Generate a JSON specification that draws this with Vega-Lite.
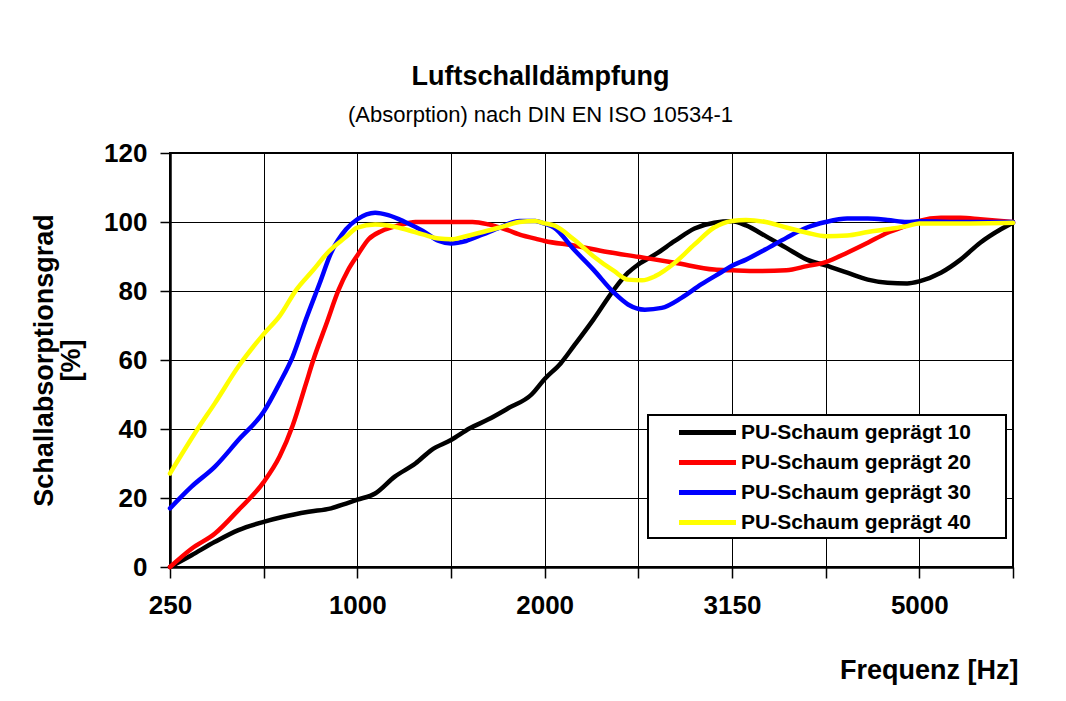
{
  "$schema": "https://vega.github.io/schema/vega-lite/v6.json",
  "width": 843,
  "height": 414,
  "autosize": {"type": "none"},
  "padding": {"left": 170, "top": 153, "right": 53, "bottom": 134},
  "background": "white",
  "title": {
    "text": "Luftschalldämpfung",
    "subtitle": "(Absorption) nach DIN EN ISO 10534-1",
    "font": "Liberation Sans",
    "fontSize": 27,
    "fontWeight": "bold",
    "color": "black",
    "subtitleFont": "Liberation Sans",
    "subtitleFontSize": 22,
    "subtitleFontWeight": "normal",
    "subtitleColor": "black",
    "subtitlePadding": 14,
    "anchor": "middle",
    "frame": "group",
    "dx": -51,
    "offset": 13
  },
  "data": {
    "values": [
      {"Serie": "PU-Schaum geprägt 10", "Band": 0, "Grad": 0},
      {"Serie": "PU-Schaum geprägt 10", "Band": 0.23, "Grad": 3.4},
      {"Serie": "PU-Schaum geprägt 10", "Band": 0.48, "Grad": 7.3},
      {"Serie": "PU-Schaum geprägt 10", "Band": 0.73, "Grad": 10.7},
      {"Serie": "PU-Schaum geprägt 10", "Band": 1.0, "Grad": 13.1},
      {"Serie": "PU-Schaum geprägt 10", "Band": 1.2, "Grad": 14.5},
      {"Serie": "PU-Schaum geprägt 10", "Band": 1.48, "Grad": 16.0},
      {"Serie": "PU-Schaum geprägt 10", "Band": 1.72, "Grad": 17.0},
      {"Serie": "PU-Schaum geprägt 10", "Band": 1.88, "Grad": 18.4},
      {"Serie": "PU-Schaum geprägt 10", "Band": 2.0, "Grad": 19.5},
      {"Serie": "PU-Schaum geprägt 10", "Band": 2.19, "Grad": 21.3},
      {"Serie": "PU-Schaum geprägt 10", "Band": 2.4, "Grad": 26.2},
      {"Serie": "PU-Schaum geprägt 10", "Band": 2.62, "Grad": 30.0},
      {"Serie": "PU-Schaum geprägt 10", "Band": 2.79, "Grad": 33.9},
      {"Serie": "PU-Schaum geprägt 10", "Band": 3.0, "Grad": 36.8},
      {"Serie": "PU-Schaum geprägt 10", "Band": 3.2, "Grad": 40.2},
      {"Serie": "PU-Schaum geprägt 10", "Band": 3.4, "Grad": 42.8},
      {"Serie": "PU-Schaum geprägt 10", "Band": 3.61, "Grad": 46.0},
      {"Serie": "PU-Schaum geprägt 10", "Band": 3.86, "Grad": 50.0},
      {"Serie": "PU-Schaum geprägt 10", "Band": 4.0, "Grad": 54.5},
      {"Serie": "PU-Schaum geprägt 10", "Band": 4.17, "Grad": 59.0},
      {"Serie": "PU-Schaum geprägt 10", "Band": 4.31, "Grad": 64.0},
      {"Serie": "PU-Schaum geprägt 10", "Band": 4.52, "Grad": 71.7},
      {"Serie": "PU-Schaum geprägt 10", "Band": 4.74, "Grad": 80.4},
      {"Serie": "PU-Schaum geprägt 10", "Band": 4.89, "Grad": 85.3},
      {"Serie": "PU-Schaum geprägt 10", "Band": 5.0, "Grad": 87.7},
      {"Serie": "PU-Schaum geprägt 10", "Band": 5.18, "Grad": 90.6},
      {"Serie": "PU-Schaum geprägt 10", "Band": 5.39, "Grad": 94.5},
      {"Serie": "PU-Schaum geprägt 10", "Band": 5.6, "Grad": 98.1},
      {"Serie": "PU-Schaum geprägt 10", "Band": 5.81, "Grad": 99.8},
      {"Serie": "PU-Schaum geprägt 10", "Band": 6.0, "Grad": 100.2},
      {"Serie": "PU-Schaum geprägt 10", "Band": 6.15, "Grad": 99.0},
      {"Serie": "PU-Schaum geprägt 10", "Band": 6.36, "Grad": 95.9},
      {"Serie": "PU-Schaum geprägt 10", "Band": 6.58, "Grad": 92.5},
      {"Serie": "PU-Schaum geprägt 10", "Band": 6.8, "Grad": 89.1},
      {"Serie": "PU-Schaum geprägt 10", "Band": 7.0, "Grad": 87.4},
      {"Serie": "PU-Schaum geprägt 10", "Band": 7.23, "Grad": 85.3},
      {"Serie": "PU-Schaum geprägt 10", "Band": 7.45, "Grad": 83.3},
      {"Serie": "PU-Schaum geprägt 10", "Band": 7.66, "Grad": 82.4},
      {"Serie": "PU-Schaum geprägt 10", "Band": 7.87, "Grad": 82.2},
      {"Serie": "PU-Schaum geprägt 10", "Band": 8.0, "Grad": 82.8},
      {"Serie": "PU-Schaum geprägt 10", "Band": 8.23, "Grad": 85.3},
      {"Serie": "PU-Schaum geprägt 10", "Band": 8.44, "Grad": 89.1},
      {"Serie": "PU-Schaum geprägt 10", "Band": 8.65, "Grad": 94.0},
      {"Serie": "PU-Schaum geprägt 10", "Band": 8.87, "Grad": 97.9},
      {"Serie": "PU-Schaum geprägt 10", "Band": 9.0, "Grad": 99.8},

      {"Serie": "PU-Schaum geprägt 20", "Band": 0, "Grad": 0},
      {"Serie": "PU-Schaum geprägt 20", "Band": 0.23, "Grad": 5.3},
      {"Serie": "PU-Schaum geprägt 20", "Band": 0.48, "Grad": 9.7},
      {"Serie": "PU-Schaum geprägt 20", "Band": 0.73, "Grad": 16.5},
      {"Serie": "PU-Schaum geprägt 20", "Band": 1.0, "Grad": 24.6},
      {"Serie": "PU-Schaum geprägt 20", "Band": 1.17, "Grad": 32.0},
      {"Serie": "PU-Schaum geprägt 20", "Band": 1.31, "Grad": 41.0},
      {"Serie": "PU-Schaum geprägt 20", "Band": 1.45, "Grad": 53.0},
      {"Serie": "PU-Schaum geprägt 20", "Band": 1.53, "Grad": 60.0},
      {"Serie": "PU-Schaum geprägt 20", "Band": 1.67, "Grad": 70.5},
      {"Serie": "PU-Schaum geprägt 20", "Band": 1.8, "Grad": 80.3},
      {"Serie": "PU-Schaum geprägt 20", "Band": 1.9, "Grad": 86.0},
      {"Serie": "PU-Schaum geprägt 20", "Band": 2.0, "Grad": 90.3},
      {"Serie": "PU-Schaum geprägt 20", "Band": 2.12, "Grad": 95.0},
      {"Serie": "PU-Schaum geprägt 20", "Band": 2.26, "Grad": 97.4},
      {"Serie": "PU-Schaum geprägt 20", "Band": 2.44, "Grad": 99.0},
      {"Serie": "PU-Schaum geprägt 20", "Band": 2.62, "Grad": 100},
      {"Serie": "PU-Schaum geprägt 20", "Band": 3.0, "Grad": 100},
      {"Serie": "PU-Schaum geprägt 20", "Band": 3.23, "Grad": 100},
      {"Serie": "PU-Schaum geprägt 20", "Band": 3.4, "Grad": 99.3},
      {"Serie": "PU-Schaum geprägt 20", "Band": 3.58, "Grad": 97.9},
      {"Serie": "PU-Schaum geprägt 20", "Band": 3.76, "Grad": 96.1},
      {"Serie": "PU-Schaum geprägt 20", "Band": 3.9, "Grad": 95.2},
      {"Serie": "PU-Schaum geprägt 20", "Band": 4.0, "Grad": 94.5},
      {"Serie": "PU-Schaum geprägt 20", "Band": 4.31, "Grad": 93.2},
      {"Serie": "PU-Schaum geprägt 20", "Band": 4.67, "Grad": 91.3},
      {"Serie": "PU-Schaum geprägt 20", "Band": 5.0, "Grad": 89.9},
      {"Serie": "PU-Schaum geprägt 20", "Band": 5.39, "Grad": 88.2},
      {"Serie": "PU-Schaum geprägt 20", "Band": 5.81, "Grad": 86.2},
      {"Serie": "PU-Schaum geprägt 20", "Band": 6.0, "Grad": 86.0},
      {"Serie": "PU-Schaum geprägt 20", "Band": 6.29, "Grad": 85.8},
      {"Serie": "PU-Schaum geprägt 20", "Band": 6.58, "Grad": 86.0},
      {"Serie": "PU-Schaum geprägt 20", "Band": 6.8, "Grad": 87.2},
      {"Serie": "PU-Schaum geprägt 20", "Band": 7.0, "Grad": 88.4},
      {"Serie": "PU-Schaum geprägt 20", "Band": 7.23, "Grad": 91.1},
      {"Serie": "PU-Schaum geprägt 20", "Band": 7.45, "Grad": 94.0},
      {"Serie": "PU-Schaum geprägt 20", "Band": 7.66, "Grad": 96.9},
      {"Serie": "PU-Schaum geprägt 20", "Band": 7.87, "Grad": 99.0},
      {"Serie": "PU-Schaum geprägt 20", "Band": 8.0, "Grad": 100.3},
      {"Serie": "PU-Schaum geprägt 20", "Band": 8.23, "Grad": 101.2},
      {"Serie": "PU-Schaum geprägt 20", "Band": 8.44, "Grad": 101.2},
      {"Serie": "PU-Schaum geprägt 20", "Band": 8.65, "Grad": 100.8},
      {"Serie": "PU-Schaum geprägt 20", "Band": 9.0, "Grad": 100},

      {"Serie": "PU-Schaum geprägt 30", "Band": 0, "Grad": 17.0},
      {"Serie": "PU-Schaum geprägt 30", "Band": 0.23, "Grad": 23.3},
      {"Serie": "PU-Schaum geprägt 30", "Band": 0.48, "Grad": 29.1},
      {"Serie": "PU-Schaum geprägt 30", "Band": 0.73, "Grad": 36.8},
      {"Serie": "PU-Schaum geprägt 30", "Band": 1.0, "Grad": 45.0},
      {"Serie": "PU-Schaum geprägt 30", "Band": 1.17, "Grad": 53.3},
      {"Serie": "PU-Schaum geprägt 30", "Band": 1.31, "Grad": 61.0},
      {"Serie": "PU-Schaum geprägt 30", "Band": 1.45, "Grad": 71.7},
      {"Serie": "PU-Schaum geprägt 30", "Band": 1.6, "Grad": 82.4},
      {"Serie": "PU-Schaum geprägt 30", "Band": 1.72, "Grad": 91.1},
      {"Serie": "PU-Schaum geprägt 30", "Band": 1.88, "Grad": 97.9},
      {"Serie": "PU-Schaum geprägt 30", "Band": 2.0, "Grad": 100.8},
      {"Serie": "PU-Schaum geprägt 30", "Band": 2.19, "Grad": 102.7},
      {"Serie": "PU-Schaum geprägt 30", "Band": 2.33, "Grad": 102.0},
      {"Serie": "PU-Schaum geprägt 30", "Band": 2.51, "Grad": 100},
      {"Serie": "PU-Schaum geprägt 30", "Band": 2.7, "Grad": 97.4},
      {"Serie": "PU-Schaum geprägt 30", "Band": 2.87, "Grad": 94.5},
      {"Serie": "PU-Schaum geprägt 30", "Band": 3.0, "Grad": 93.8},
      {"Serie": "PU-Schaum geprägt 30", "Band": 3.16, "Grad": 94.5},
      {"Serie": "PU-Schaum geprägt 30", "Band": 3.34, "Grad": 96.4},
      {"Serie": "PU-Schaum geprägt 30", "Band": 3.52, "Grad": 98.4},
      {"Serie": "PU-Schaum geprägt 30", "Band": 3.73, "Grad": 100.3},
      {"Serie": "PU-Schaum geprägt 30", "Band": 3.9, "Grad": 100.3},
      {"Serie": "PU-Schaum geprägt 30", "Band": 4.0, "Grad": 99.5},
      {"Serie": "PU-Schaum geprägt 30", "Band": 4.1, "Grad": 98.4},
      {"Serie": "PU-Schaum geprägt 30", "Band": 4.31, "Grad": 92.1},
      {"Serie": "PU-Schaum geprägt 30", "Band": 4.52, "Grad": 86.2},
      {"Serie": "PU-Schaum geprägt 30", "Band": 4.74, "Grad": 79.5},
      {"Serie": "PU-Schaum geprägt 30", "Band": 4.89, "Grad": 76.1},
      {"Serie": "PU-Schaum geprägt 30", "Band": 5.07, "Grad": 74.6},
      {"Serie": "PU-Schaum geprägt 30", "Band": 5.25, "Grad": 75.1},
      {"Serie": "PU-Schaum geprägt 30", "Band": 5.46, "Grad": 78.0},
      {"Serie": "PU-Schaum geprägt 30", "Band": 5.67, "Grad": 81.9},
      {"Serie": "PU-Schaum geprägt 30", "Band": 5.89, "Grad": 85.5},
      {"Serie": "PU-Schaum geprägt 30", "Band": 6.0, "Grad": 87.3},
      {"Serie": "PU-Schaum geprägt 30", "Band": 6.15, "Grad": 89.1},
      {"Serie": "PU-Schaum geprägt 30", "Band": 6.36, "Grad": 92.1},
      {"Serie": "PU-Schaum geprägt 30", "Band": 6.58, "Grad": 95.4},
      {"Serie": "PU-Schaum geprägt 30", "Band": 6.8, "Grad": 98.4},
      {"Serie": "PU-Schaum geprägt 30", "Band": 7.0, "Grad": 100},
      {"Serie": "PU-Schaum geprägt 30", "Band": 7.23, "Grad": 101},
      {"Serie": "PU-Schaum geprägt 30", "Band": 7.45, "Grad": 101},
      {"Serie": "PU-Schaum geprägt 30", "Band": 7.66, "Grad": 100.6},
      {"Serie": "PU-Schaum geprägt 30", "Band": 7.87, "Grad": 100},
      {"Serie": "PU-Schaum geprägt 30", "Band": 8.0, "Grad": 100.2},
      {"Serie": "PU-Schaum geprägt 30", "Band": 8.5, "Grad": 100},
      {"Serie": "PU-Schaum geprägt 30", "Band": 9.0, "Grad": 100},

      {"Serie": "PU-Schaum geprägt 40", "Band": 0, "Grad": 27.1},
      {"Serie": "PU-Schaum geprägt 40", "Band": 0.3, "Grad": 40.2},
      {"Serie": "PU-Schaum geprägt 40", "Band": 0.48, "Grad": 47.5},
      {"Serie": "PU-Schaum geprägt 40", "Band": 0.73, "Grad": 58.1},
      {"Serie": "PU-Schaum geprägt 40", "Band": 1.0, "Grad": 67.5},
      {"Serie": "PU-Schaum geprägt 40", "Band": 1.17, "Grad": 72.7},
      {"Serie": "PU-Schaum geprägt 40", "Band": 1.35, "Grad": 80.4},
      {"Serie": "PU-Schaum geprägt 40", "Band": 1.52, "Grad": 85.8},
      {"Serie": "PU-Schaum geprägt 40", "Band": 1.7, "Grad": 91.6},
      {"Serie": "PU-Schaum geprägt 40", "Band": 1.88, "Grad": 95.7},
      {"Serie": "PU-Schaum geprägt 40", "Band": 2.0, "Grad": 98.4},
      {"Serie": "PU-Schaum geprägt 40", "Band": 2.19, "Grad": 99.3},
      {"Serie": "PU-Schaum geprägt 40", "Band": 2.33, "Grad": 99.0},
      {"Serie": "PU-Schaum geprägt 40", "Band": 2.51, "Grad": 97.9},
      {"Serie": "PU-Schaum geprägt 40", "Band": 2.7, "Grad": 96.4},
      {"Serie": "PU-Schaum geprägt 40", "Band": 2.87, "Grad": 95.2},
      {"Serie": "PU-Schaum geprägt 40", "Band": 3.0, "Grad": 95.0},
      {"Serie": "PU-Schaum geprägt 40", "Band": 3.16, "Grad": 95.9},
      {"Serie": "PU-Schaum geprägt 40", "Band": 3.34, "Grad": 97.1},
      {"Serie": "PU-Schaum geprägt 40", "Band": 3.52, "Grad": 98.4},
      {"Serie": "PU-Schaum geprägt 40", "Band": 3.73, "Grad": 100},
      {"Serie": "PU-Schaum geprägt 40", "Band": 3.9, "Grad": 100.3},
      {"Serie": "PU-Schaum geprägt 40", "Band": 4.0, "Grad": 99.6},
      {"Serie": "PU-Schaum geprägt 40", "Band": 4.1, "Grad": 99.0},
      {"Serie": "PU-Schaum geprägt 40", "Band": 4.31, "Grad": 95.0},
      {"Serie": "PU-Schaum geprägt 40", "Band": 4.52, "Grad": 90.1},
      {"Serie": "PU-Schaum geprägt 40", "Band": 4.74, "Grad": 85.8},
      {"Serie": "PU-Schaum geprägt 40", "Band": 4.89, "Grad": 83.3},
      {"Serie": "PU-Schaum geprägt 40", "Band": 5.04, "Grad": 83.1},
      {"Serie": "PU-Schaum geprägt 40", "Band": 5.18, "Grad": 84.3},
      {"Serie": "PU-Schaum geprägt 40", "Band": 5.39, "Grad": 88.2},
      {"Serie": "PU-Schaum geprägt 40", "Band": 5.6, "Grad": 93.5},
      {"Serie": "PU-Schaum geprägt 40", "Band": 5.81, "Grad": 98.4},
      {"Serie": "PU-Schaum geprägt 40", "Band": 6.0, "Grad": 100.3},
      {"Serie": "PU-Schaum geprägt 40", "Band": 6.15, "Grad": 100.6},
      {"Serie": "PU-Schaum geprägt 40", "Band": 6.36, "Grad": 100},
      {"Serie": "PU-Schaum geprägt 40", "Band": 6.58, "Grad": 98.4},
      {"Serie": "PU-Schaum geprägt 40", "Band": 6.8, "Grad": 96.9},
      {"Serie": "PU-Schaum geprägt 40", "Band": 7.0, "Grad": 95.9},
      {"Serie": "PU-Schaum geprägt 40", "Band": 7.23, "Grad": 96.1},
      {"Serie": "PU-Schaum geprägt 40", "Band": 7.45, "Grad": 97.1},
      {"Serie": "PU-Schaum geprägt 40", "Band": 7.66, "Grad": 97.9},
      {"Serie": "PU-Schaum geprägt 40", "Band": 7.87, "Grad": 98.8},
      {"Serie": "PU-Schaum geprägt 40", "Band": 8.0, "Grad": 99.6},
      {"Serie": "PU-Schaum geprägt 40", "Band": 8.44, "Grad": 99.6},
      {"Serie": "PU-Schaum geprägt 40", "Band": 9.0, "Grad": 99.8}
    ]
  },
  "mark": {"type": "line", "strokeWidth": 4.5, "interpolate": "monotone", "strokeCap": "round", "strokeJoin": "round"},
  "encoding": {
    "x": {
      "field": "Band",
      "type": "quantitative",
      "scale": {"domain": [0, 9], "nice": false, "zero": false},
      "axis": {
        "title": "Frequenz [Hz]",
        "values": [0, 1, 2, 3, 4, 5, 6, 7, 8, 9],
        "labelExpr": "datum.value == 0 ? '250' : datum.value == 2 ? '1000' : datum.value == 4 ? '2000' : datum.value == 6 ? '3150' : datum.value == 8 ? '5000' : ''",
        "tickSize": 11,
        "labelPadding": 14,
        "labelFontSize": 26,
        "labelOverlap": false,
        "labelFlush": false,
        "titleAnchor": "end",
        "titleAlign": "right",
        "titleBaseline": "alphabetic",
        "titleX": 848,
        "titleY": 111
      }
    },
    "y": {
      "field": "Grad",
      "type": "quantitative",
      "scale": {"domain": [0, 120], "nice": false},
      "axis": {
        "title": ["Schallabsorptionsgrad", "[%]"],
        "values": [0, 20, 40, 60, 80, 100, 120],
        "tickSize": 10,
        "labelPadding": 13,
        "labelFontSize": 26,
        "titlePadding": 18,
        "titleLineHeight": 27
      }
    },
    "color": {
      "field": "Serie",
      "type": "nominal",
      "scale": {
        "domain": ["PU-Schaum geprägt 10", "PU-Schaum geprägt 20", "PU-Schaum geprägt 30", "PU-Schaum geprägt 40"],
        "range": ["#000000", "#ff0000", "#0000ff", "#ffff00"]
      },
      "legend": {
        "title": "\u00a0",
        "titleOrient": "right",
        "titlePadding": 30,
        "titleFontSize": 10,
        "orient": "none",
        "legendX": 478,
        "legendY": 262,
        "padding": 5,
        "strokeColor": "black",
        "fillColor": "white",
        "symbolType": "M-2.85,0H2.85",
        "symbolSize": 400,
        "symbolStrokeWidth": 5,
        "symbolOffset": 42,
        "labelOffset": 21,
        "labelFont": "Liberation Sans",
        "labelFontSize": 21,
        "labelFontWeight": "bold",
        "labelColor": "black",
        "rowPadding": 7,
        "labelLimit": 400,
        "encode": {"legend": {"update": {"strokeWidth": {"value": 2}}}}
      }
    }
  },
  "config": {
    "view": {"stroke": "black", "strokeWidth": 2},
    "axis": {
      "grid": true,
      "gridColor": "black",
      "gridOpacity": 1,
      "gridWidth": 1,
      "domainColor": "black",
      "domainWidth": 2.5,
      "tickColor": "black",
      "tickWidth": 1.5,
      "labelFont": "Liberation Sans",
      "labelFontWeight": "bold",
      "labelColor": "black",
      "titleFont": "Liberation Sans",
      "titleFontWeight": "bold",
      "titleFontSize": 27,
      "titleColor": "black"
    }
  }
}
